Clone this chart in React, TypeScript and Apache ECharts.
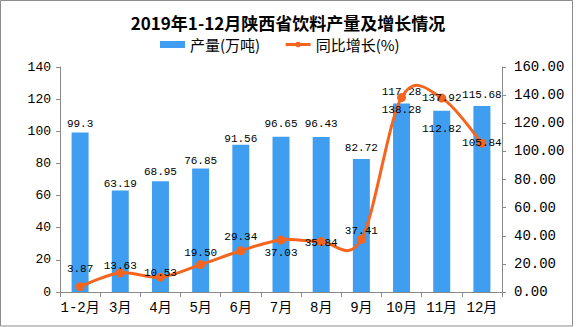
import React, { useEffect, useRef } from "react";
import * as echarts from "echarts";

const categories = ["1-2月", "3月", "4月", "5月", "6月", "7月", "8月", "9月", "10月", "11月", "12月"];
const production = [99.3, 63.19, 68.95, 76.85, 91.56, 96.65, 96.43, 82.72, 117.28, 112.82, 115.68];
const growth = [3.87, 13.63, 10.53, 19.5, 29.34, 37.03, 35.84, 37.41, 138.28, 137.92, 105.84];
const leftAxis = { min: 0, max: 140, interval: 20 };
const rightAxis = { min: 0, max: 160, interval: 20 };

// label placement tweaks (vertical offsets, px) to mimic the reference
const barLabelDy = [-9, -7, -10, -8, -6, -13, -14, -12, -12, 18, -12];
const lineLabelDy = [-18, -7, -4, -12, -14, 13, 1, -8, 12, 0, 0];

const BAR = "#409EF0";
const LINE = "#F4661F";
const MONO = "'Liberation Mono', 'Noto Sans CJK SC', monospace";
const CJK = "'Noto Sans CJK SC', sans-serif";

export default function App() {
  const ref = useRef<HTMLDivElement>(null);
  useEffect(() => {
    if (!ref.current) return;
    const chart = echarts.init(ref.current, null, { renderer: "svg" });
    const axisLine = { show: true, lineStyle: { color: "#8a8a8a", width: 1 } };

    // Excel-like spline segment (Catmull-Rom, tension 1/6) drawn through the axis scales
    const renderSegment = (params: any, api: any) => {
      const i = params.dataIndex;
      const n = growth.length;
      if (i >= n - 1) return null;
      const pt = (k: number) => api.coord([Math.max(0, Math.min(n - 1, k)), growth[Math.max(0, Math.min(n - 1, k))]]);
      const p0 = pt(i - 1);
      const p1 = pt(i);
      const p2 = pt(i + 1);
      const p3 = pt(i + 2);
      return {
        type: "bezierCurve",
        shape: {
          x1: p1[0],
          y1: p1[1],
          x2: p2[0],
          y2: p2[1],
          cpx1: p1[0] + (p2[0] - p0[0]) / 6,
          cpy1: p1[1] + (p2[1] - p0[1]) / 6,
          cpx2: p2[0] - (p3[0] - p1[0]) / 6,
          cpy2: p2[1] - (p3[1] - p1[1]) / 6,
        },
        style: { stroke: LINE, lineWidth: 3, fill: "none", lineCap: "round" },
        silent: true,
      };
    };

    chart.setOption({
      animation: false,
      backgroundColor: "#fff",
      title: {
        text: "2019年1-12月陕西省饮料产量及增长情况",
        left: "center",
        top: 14,
        padding: 0,
        textStyle: { fontSize: 17, fontWeight: "bold", color: "#000", fontFamily: CJK },
      },
      legend: {
        left: 160,
        top: 37,
        padding: 0,
        itemWidth: 25,
        itemHeight: 7,
        itemGap: 24,
        textStyle: { fontSize: 15, color: "#000", fontFamily: CJK },
        data: [
          { name: "产量(万吨)", icon: "rect" },
          { name: "同比增长(%)", lineStyle: { color: LINE, width: 3, opacity: 1 } },
        ],
      },
      grid: { left: 60, right: 74, top: 67, bottom: 35, containLabel: false },
      xAxis: {
        type: "category",
        data: categories,
        axisLine,
        axisTick: { show: true, length: 5, lineStyle: { color: "#8a8a8a" } },
        axisLabel: { color: "#000", fontSize: 14, margin: 9, fontFamily: MONO, interval: 0 },
      },
      yAxis: [
        {
          type: "value",
          ...leftAxis,
          axisLine,
          axisTick: { show: true, length: 4, lineStyle: { color: "#8a8a8a" } },
          splitLine: { show: false },
          axisLabel: { color: "#000", fontSize: 13, margin: 9, fontFamily: MONO },
        },
        {
          type: "value",
          ...rightAxis,
          position: "right",
          axisLine,
          axisTick: { show: true, length: 4, lineStyle: { color: "#8a8a8a" } },
          splitLine: { show: false },
          axisLabel: {
            color: "#000",
            fontSize: 14,
            margin: 12,
            fontFamily: MONO,
            formatter: (v: number) => v.toFixed(2),
          },
        },
      ],
      series: [
        {
          name: "产量(万吨)",
          type: "bar",
          barWidth: 17,
          itemStyle: { color: BAR },
          data: production.map((v, i) => ({
            value: v,
            label: { offset: [0, barLabelDy[i] + 6] },
          })),
          label: {
            show: true,
            position: "top",
            distance: 0,
            color: "#000",
            fontSize: 11,
            fontFamily: MONO,
          },
          z: 2,
        },
        {
          name: "同比增长曲线",
          type: "custom",
          yAxisIndex: 1,
          renderItem: renderSegment,
          data: growth.map((v, i) => [i, v]),
          encode: { x: 0, y: 1 },
          z: 3,
        },
        {
          name: "同比增长(%)",
          type: "line",
          yAxisIndex: 1,
          symbol: "circle",
          symbolSize: 9,
          lineStyle: { color: LINE, width: 3, opacity: 0 },
          itemStyle: { color: LINE },
          data: growth.map((v, i) => ({
            value: v,
            label: { offset: [0, lineLabelDy[i]] },
          })),
          label: {
            show: true,
            position: "inside",
            color: "#000",
            fontSize: 11,
            fontFamily: MONO,
            formatter: (p: any) => Number(p.value).toFixed(2),
          },
          z: 4,
        },
      ],
      graphic: [
        {
          type: "rect",
          shape: { x: 0.5, y: 0.5, width: 572, height: 325.5 },
          style: { fill: "none", stroke: "#8c8c8c", lineWidth: 1 },
          silent: true,
          z: 10,
        },
      ],
    });
    return () => chart.dispose();
  }, []);
  return (
    <div
      ref={ref}
      style={{ position: "fixed", left: 0, top: 0, width: 576, height: 327, background: "#fff" }}
    />
  );
}
